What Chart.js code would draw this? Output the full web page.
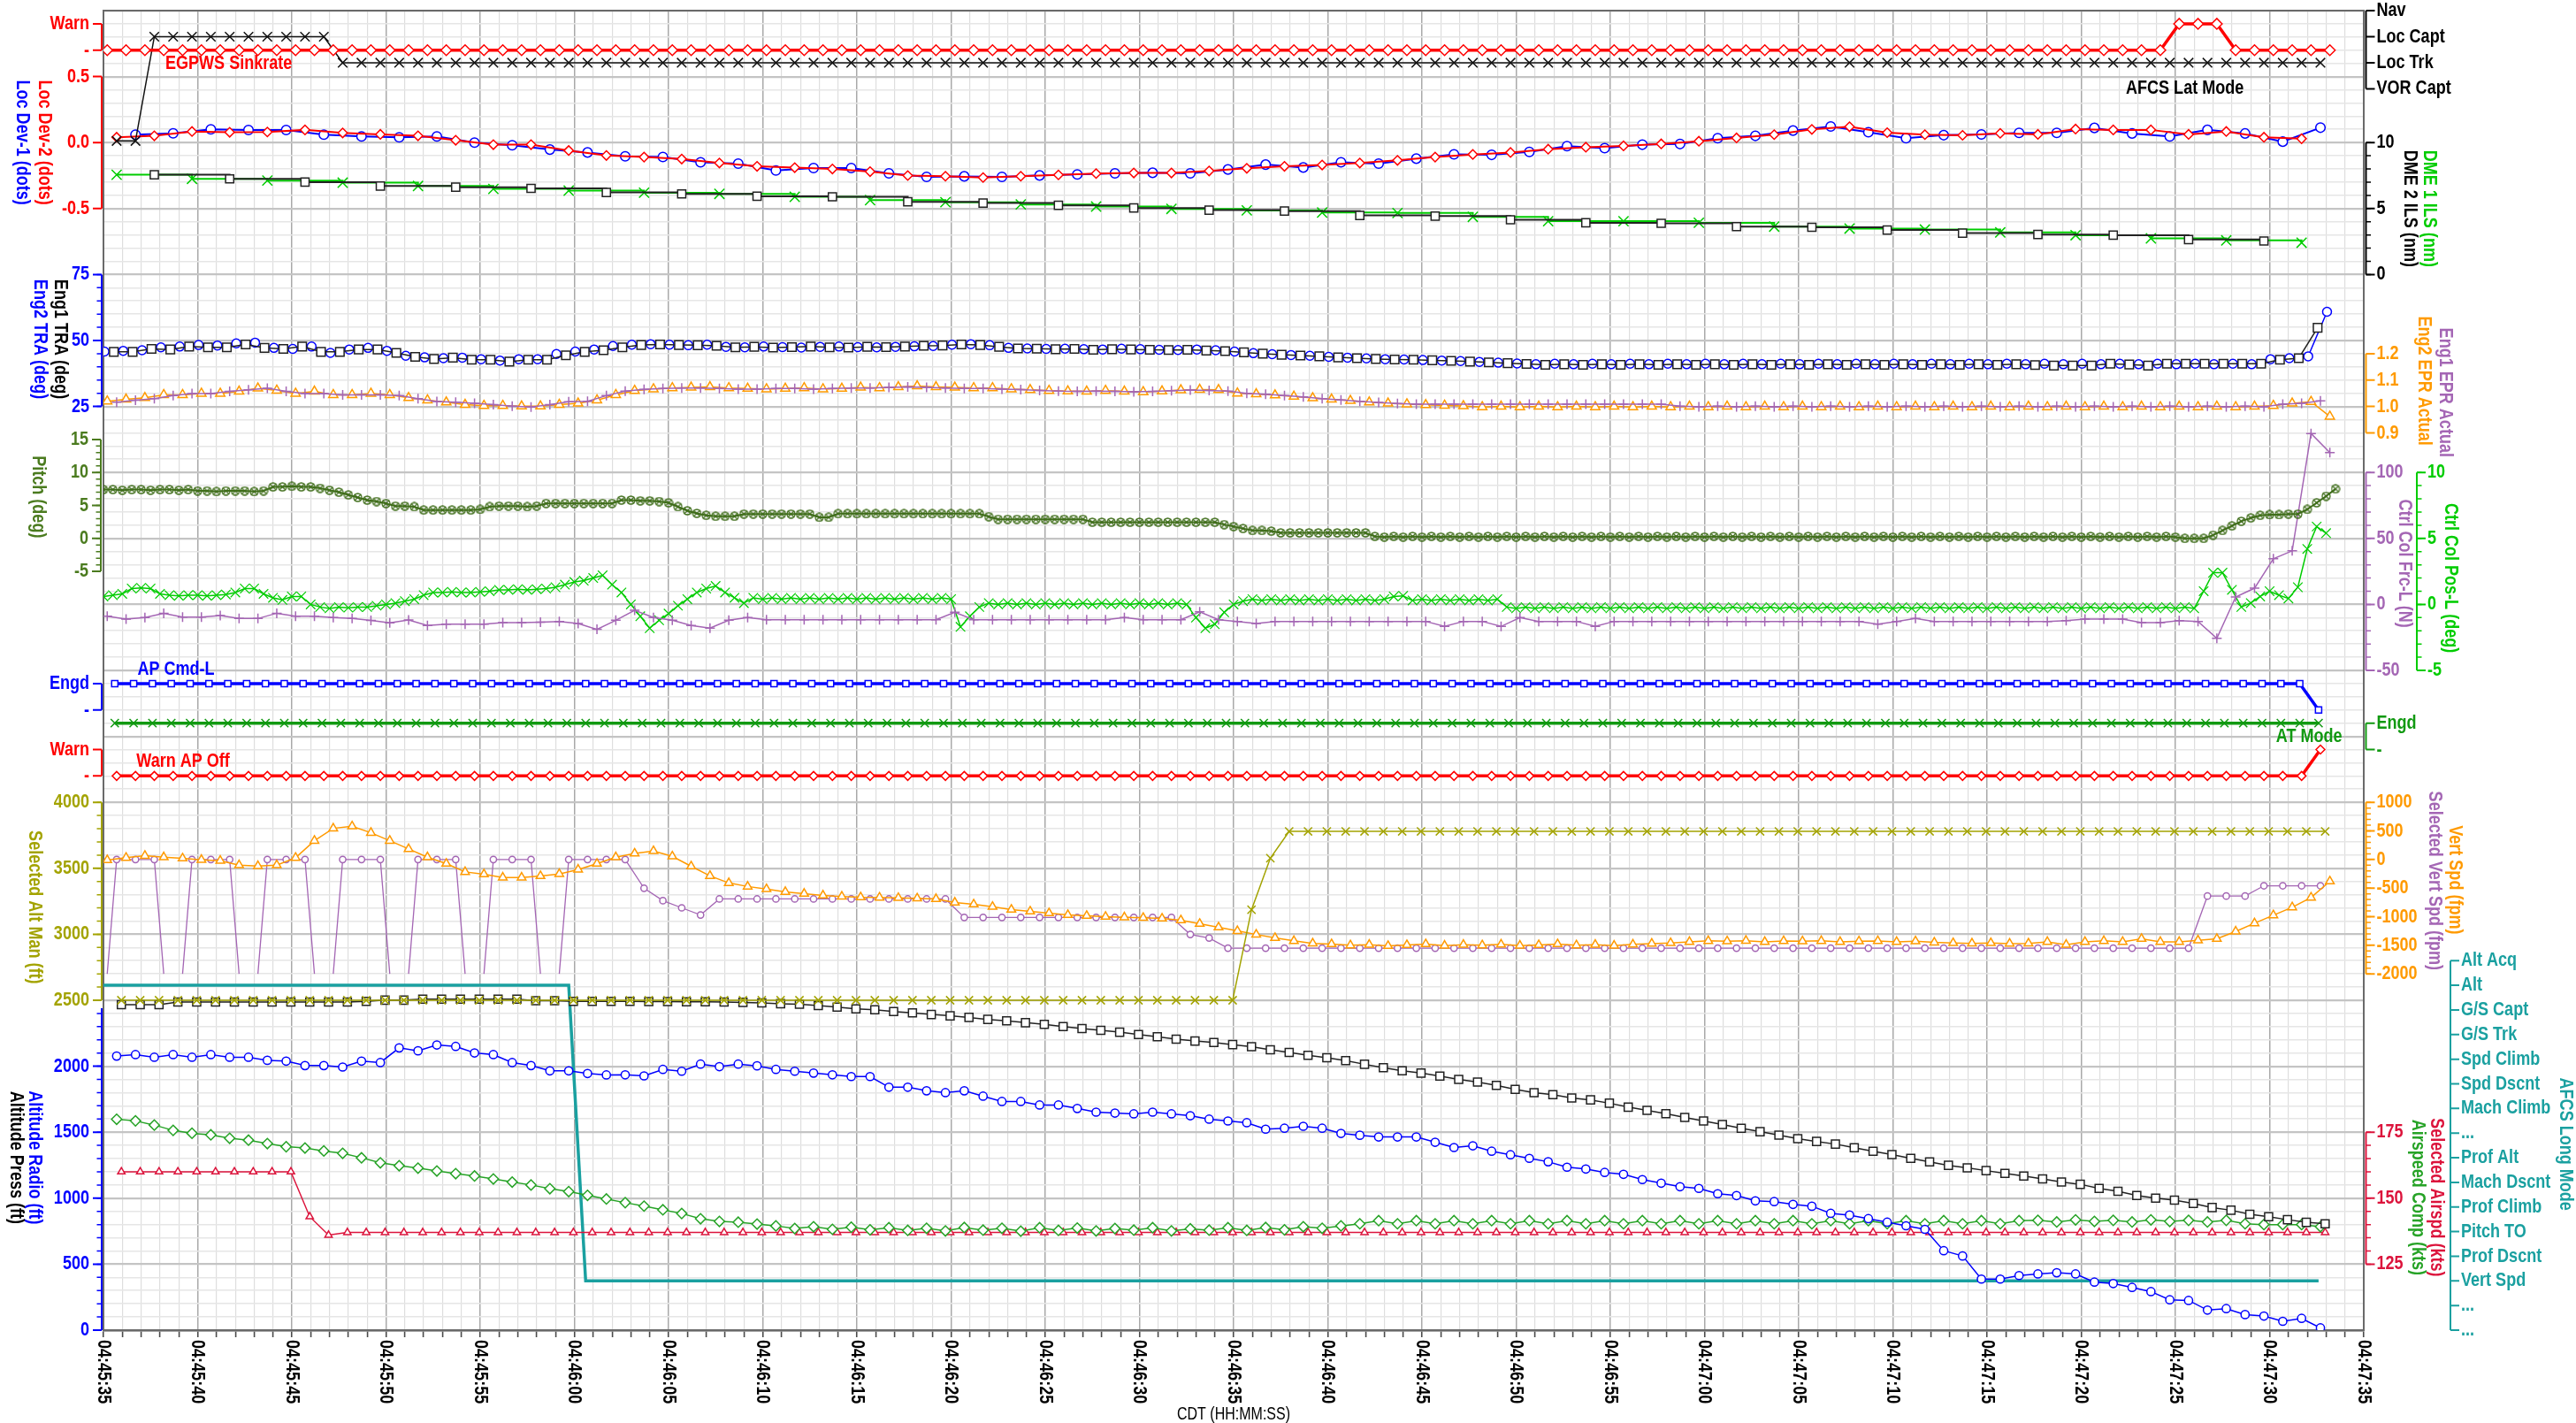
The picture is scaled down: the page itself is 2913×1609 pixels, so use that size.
<!DOCTYPE html>
<html>
<head>
<meta charset="utf-8">
<title>Flight data – final approach</title>
<script src="https://cdn.jsdelivr.net/npm/chart.js@4.4.1/dist/chart.umd.min.js"></script>
<style>
  html, body { margin: 0; padding: 0; background: #ffffff; }
  #wrap { width: 2913px; height: 1609px; position: relative; }
  canvas { display: block; }
</style>
</head>
<body>
<div id="wrap"><canvas id="fdr" width="2913" height="1609"></canvas></div>
<script>
// ---------------------------------------------------------------------------
// Time axis: seconds after 04:45:35 CDT
// ---------------------------------------------------------------------------
const timeLabels = ['04:45:35','04:45:40','04:45:45','04:45:50','04:45:55','04:46:00','04:46:05',
  '04:46:10','04:46:15','04:46:20','04:46:25','04:46:30','04:46:35','04:46:40','04:46:45',
  '04:46:50','04:46:55','04:47:00','04:47:05','04:47:10','04:47:15','04:47:20','04:47:25',
  '04:47:30','04:47:35'];

// Discrete state labels
const warnStates = ['-', 'Warn'];
const engdStates = ['-', 'Engd'];
const latModeLabels = ['VOR Capt', 'Loc Trk', 'Loc Capt', 'Nav'];
const longModeLabels = ['...', '...', 'Vert Spd', 'Prof Dscnt', 'Pitch TO', 'Prof Climb', 'Mach Dscnt',
  'Prof Alt', '...', 'Mach Climb', 'Spd Dscnt', 'Spd Climb', 'G/S Trk', 'G/S Capt', 'Alt', 'Alt Acq'];

// Numeric tick labels
const locDevTicks = [0.5, 0.0, -0.5];
const dmeTicks = [10, 5, 0];
const traTicks = [75, 50, 25];
const eprTicks = [1.2, 1.1, 1.0, 0.9];
const pitchTicks = [15, 10, 5, 0, -5];
const frcTicks = [100, 50, 0, -50];
const posTicks = [10, 5, 0, -5];
const selAltTicks = [4000, 3500, 3000, 2500];
const vsTicks = [1000, 500, 0, -500, -1000, -1500, -2000];
const altTicks = [2000, 1500, 1000, 500, 0];
const iasTicks = [175, 150, 125];
const latModeTicks = [3, 2, 1, 0];
const longModeTicks = [15, 14, 13, 12, 11, 10, 9, 8, 7, 6, 5, 4, 3, 2, 1, 0];

// ---------------------------------------------------------------------------
// Recorded parameters (regular samples: first sample time, interval in s)
// ---------------------------------------------------------------------------
// EGPWS Sinkrate (0 = '-', 1 = Warn), from 0.2 s every 1 s
const egpwsSinkrate = [
  0,0,0,0,0,0,0,0,0,0, 0,0,0,0,0,0,0,0,0,0, 0,0,0,0,0,0,0,0,0,0,
  0,0,0,0,0,0,0,0,0,0, 0,0,0,0,0,0,0,0,0,0, 0,0,0,0,0,0,0,0,0,0,
  0,0,0,0,0,0,0,0,0,0, 0,0,0,0,0,0,0,0,0,0, 0,0,0,0,0,0,0,0,0,0,
  0,0,0,0,0,0,0,0,0,0, 0,0,0,0,0,0,0,0,0,0,
  1,1,1,0,0,0,0,0,0];

// AFCS Lat Mode (index into latModeLabels), from 0.7 s every 1 s
const afcsLatMode = [
  -2,-2,2,2,2,2,2,2,2,2, 2,2,1,1,1,1,1,1,1,1,
  1,1,1,1,1,1,1,1,1,1, 1,1,1,1,1,1,1,1,1,1, 1,1,1,1,1,1,1,1,1,1,
  1,1,1,1,1,1,1,1,1,1, 1,1,1,1,1,1,1,1,1,1, 1,1,1,1,1,1,1,1,1,1,
  1,1,1,1,1,1,1,1,1,1, 1,1,1,1,1,1,1,1,1,1, 1,1,1,1,1,1,1,1,1,1,
  1,1,1,1,1,1,1,1];

// Localizer deviation (dots), every 2 s
const locDev1 = [ // from 1.7 s
  0.06, 0.07, 0.10, 0.095, 0.095, 0.06, 0.047, 0.04, 0.047, 0.0,
  -0.02, -0.053, -0.075, -0.104, -0.109, -0.149, -0.16, -0.211, -0.193, -0.193,
  -0.233, -0.26, -0.256, -0.26, -0.249, -0.242, -0.233, -0.229, -0.233, -0.204,
  -0.167, -0.189, -0.149, -0.16, -0.122, -0.089, -0.093, -0.071, -0.027, -0.042,
  -0.016, -0.011, 0.033, 0.051, 0.091, 0.122, 0.078, 0.033, 0.056, 0.062,
  0.073, 0.073, 0.111, 0.069, 0.047, 0.096, 0.069, 0.007, 0.113];
const locDev2 = [ // from 0.7 s
  0.04, 0.051, 0.084, 0.078, 0.08, 0.096, 0.073, 0.062, 0.051, 0.018,
  -0.016, -0.016, -0.06, -0.098, -0.11, -0.125, -0.155, -0.18, -0.19, -0.2,
  -0.22, -0.25, -0.255, -0.265, -0.255, -0.245, -0.235, -0.23, -0.23, -0.215,
  -0.195, -0.18, -0.17, -0.155, -0.135, -0.11, -0.09, -0.075, -0.05, -0.035,
  -0.025, -0.01, 0.01, 0.035, 0.06, 0.1, 0.12, 0.075, 0.06, 0.055,
  0.07, 0.062, 0.102, 0.096, 0.096, 0.062, 0.084, 0.04, 0.029];

// DME distance (nm), every 4 s
const dme1Ils = [ // from 0.7 s
  7.56, 7.25, 7.12, 6.96, 6.71, 6.49, 6.36, 6.2, 6.11, 5.89,
  5.64, 5.48, 5.31, 5.15, 4.97, 4.86, 4.7, 4.66, 4.37, 4.04,
  4.04, 3.92, 3.63, 3.48, 3.41, 3.19, 2.98, 2.74, 2.59, 2.41];
const dme2Ils = [ // from 2.7 s
  7.56, 7.25, 7.0, 6.71, 6.62, 6.53, 6.22, 6.11, 5.93, 5.89,
  5.51, 5.42, 5.24, 5.04, 4.88, 4.81, 4.48, 4.43, 4.15, 3.92,
  3.88, 3.63, 3.58, 3.37, 3.14, 3.03, 2.98, 2.65, 2.54];

// Thrust resolver angle (deg), every 1 s
const eng1Tra = [ // from 0.55 s
  45.7, 45.7, 46.8, 46.6, 47.7, 47.4, 47.4, 48.5, 47.2, 46.8,
  47.7, 45.7, 45.7, 46.6, 46.6, 45.3, 43.8, 43.0, 43.5, 42.7,
  42.7, 42.0, 42.7, 42.7, 44.4, 45.7, 46.3,
  47.4, 48.3, 48.5, 48.3, 48.2, 48.0,
  47.4, 47.6, 47.3, 47.5, 47.7, 47.4, 47.3, 47.6, 47.5, 47.7, 48.0, 48.1,
  48.5, 48.3, 47.6,
  47.0, 46.9, 46.7, 46.8, 46.5, 46.7, 46.6, 46.5, 46.4, 46.5, 46.2, 46.0,
  45.5, 45.0, 44.6, 44.3, 44.0, 43.6,
  43.3, 43.0, 42.8, 42.7, 42.5, 42.3, 42.0, 41.7, 41.4, 41.1,
  40.8, 41.0, 40.8, 41.0, 40.8, 41.0, 40.8, 41.0, 40.8, 41.0, 40.8, 41.0, 40.8,
  41.0, 40.8, 41.0, 40.8, 41.0, 40.8, 41.0, 40.8, 41.0, 40.8, 41.0, 40.8, 41.0,
  40.7, 40.5, 40.5, 40.5, 41.2, 40.9, 40.5, 41.2, 41.2, 41.2, 41.2, 41.2, 41.2,
  42.7, 43.3, 54.8];
const eng2Tra = [ // from 0.05 s
  45.8, 46.1, 46.3, 47.4, 47.7, 48.3, 48.1, 48.9, 49.2, 47.2,
  46.8, 47.7, 45.3, 46.6, 47.2, 46.1, 44.2, 43.6, 43.3, 43.5,
  42.9, 42.4, 42.9, 42.9, 44.9, 45.8, 46.6, 47.9,
  48.4, 48.6, 48.4, 48.2, 48.4,
  47.6, 47.4, 47.7, 47.5, 47.3, 47.6, 47.7, 47.5, 47.4, 47.6, 47.8, 47.9,
  48.4, 48.6, 48.2,
  47.2, 47.0, 46.8, 46.9, 46.7, 46.6, 46.9, 46.7, 46.5, 46.4, 46.6, 46.3,
  45.8, 45.2, 44.8, 44.5, 44.2, 43.8,
  43.5, 43.2, 42.9, 42.8, 42.6, 42.4, 42.2, 41.9, 41.6, 41.3,
  41.0, 41.2, 41.0, 41.2, 41.0, 41.2, 41.0, 41.2, 41.0, 41.2,
  41.0, 41.2, 41.0, 41.2, 41.0, 41.2, 41.0, 41.2, 41.0, 41.2,
  41.0, 41.2, 41.0, 41.2, 41.0, 41.2, 41.0, 41.2, 41.0, 41.2,
  41.0, 41.2, 41.0, 41.2, 41.0, 41.2, 41.0, 41.2, 41.0,
  42.9, 43.3, 44.0, 60.9];

// Engine pressure ratio, every 1 s
const eng1Epr = [ // from 0.7 s
  1.016, 1.024, 1.030, 1.041, 1.049, 1.049, 1.057, 1.063, 1.069, 1.057,
  1.049, 1.049, 1.044, 1.044, 1.044, 1.041, 1.030, 1.019, 1.016, 1.012,
  1.007, 1.001, 0.998, 1.007, 1.018, 1.020, 1.041,
  1.058, 1.065, 1.068, 1.070, 1.070, 1.068, 1.066, 1.066, 1.068, 1.068,
  1.066, 1.068, 1.070, 1.070, 1.072, 1.074, 1.072, 1.070, 1.068, 1.068, 1.066,
  1.064, 1.061, 1.058, 1.057, 1.058, 1.057, 1.056, 1.057, 1.060, 1.062, 1.061, 1.058,
  1.050, 1.046, 1.041, 1.036, 1.030, 1.025, 1.020, 1.015, 1.011, 1.009, 1.009, 1.009, 1.009,
  1.009, 1.009, 1.009, 1.009, 1.009, 1.009, 1.009, 1.009, 1.009, 1.009,
  1.001, 0.999, 1.001, 0.999, 1.001, 0.999, 1.001, 0.999, 1.001, 0.999,
  1.001, 0.999, 1.001, 0.999, 1.001, 0.999, 1.001, 0.999, 1.001, 0.999,
  1.001, 0.999, 1.001, 0.999, 1.001, 0.999, 1.001, 0.999, 1.001, 0.999,
  1.001, 0.999,
  1.009, 1.012, 1.021];
const eng2Epr = [ // from 0.2 s
  1.020, 1.027, 1.033, 1.044, 1.044, 1.049, 1.049, 1.057, 1.069, 1.061,
  1.049, 1.057, 1.044, 1.044, 1.049, 1.044, 1.033, 1.024, 1.016, 1.007,
  1.003, 1.003, 1.001, 1.001, 1.007, 1.012, 1.024, 1.044,
  1.060, 1.066, 1.070, 1.072, 1.074,
  1.070, 1.068, 1.066, 1.068, 1.070, 1.066, 1.068, 1.072, 1.070, 1.074, 1.077, 1.074, 1.072, 1.070, 1.070,
  1.066, 1.063, 1.060, 1.058, 1.057, 1.060, 1.057, 1.055, 1.058, 1.062, 1.064, 1.063,
  1.050, 1.047, 1.043, 1.038, 1.032, 1.027, 1.022, 1.016, 1.012, 1.009, 1.006, 1.004, 1.002,
  0.998, 1.000, 0.998, 1.000, 0.998, 1.000, 0.998, 1.000, 0.998, 1.000,
  0.998, 1.000, 0.998, 1.000, 0.998, 1.000, 0.998, 1.000, 0.998, 1.000,
  0.998, 1.000, 0.998, 1.000, 0.998, 1.000, 0.998, 1.000, 0.998, 1.000,
  0.998, 1.000, 0.998, 1.000, 0.998, 1.000, 0.998, 1.000, 0.998, 1.000,
  0.998, 1.000,
  1.003, 1.012, 1.018, 0.962];

// Pitch attitude (deg), from 0 s every 0.5 s
const pitch = [
  7.4, 7.4, 7.3, 7.4, 7.4, 7.3, 7.4, 7.4, 7.3, 7.4,
  7.2, 7.2, 7.1, 7.2, 7.2, 7.2, 7.1, 7.2,
  7.8, 7.8, 7.9, 7.8, 7.8,
  7.6, 7.3, 7.0, 6.6, 6.2,
  5.8, 5.6, 5.3,
  4.9, 4.9, 4.8,
  4.3, 4.3, 4.3, 4.3, 4.3, 4.3, 4.4,
  4.8, 4.9, 4.9, 4.9, 4.8, 4.9,
  5.3, 5.3, 5.3, 5.3, 5.3, 5.3, 5.3, 5.3,
  5.8, 5.8, 5.7, 5.7, 5.6,
  5.4, 4.8, 4.2, 3.8, 3.5,
  3.35, 3.35, 3.35,
  3.7, 3.7, 3.7, 3.7, 3.7, 3.7, 3.7, 3.7,
  3.2, 3.2,
  3.75, 3.75, 3.75, 3.75, 3.75, 3.75, 3.75, 3.75, 3.75, 3.75, 3.75, 3.75, 3.75, 3.75, 3.75, 3.75,
  3.3,
  2.9, 2.9, 2.9, 2.9, 2.9, 2.9, 2.9, 2.9, 2.9, 2.9,
  2.45, 2.45, 2.45, 2.45, 2.45, 2.45, 2.45, 2.45, 2.45, 2.45, 2.45, 2.45, 2.45, 2.45,
  2.1, 1.8, 1.5,
  1.2, 1.2, 1.1,
  0.85, 0.85, 0.85, 0.85, 0.85, 0.85, 0.85, 0.85, 0.85, 0.85,
  0.3, 0.2, 0.3, 0.2, 0.3, 0.2, 0.3, 0.2, 0.3, 0.2,
  0.3, 0.2, 0.3, 0.2, 0.3, 0.2, 0.3, 0.2, 0.3, 0.2,
  0.3, 0.2, 0.3, 0.2, 0.3, 0.2, 0.3, 0.2, 0.3, 0.2,
  0.3, 0.2, 0.3, 0.2, 0.3, 0.2, 0.3, 0.2, 0.3, 0.2,
  0.3, 0.2, 0.3, 0.2, 0.3, 0.2, 0.3, 0.2, 0.3, 0.2,
  0.3, 0.2, 0.3, 0.2, 0.3, 0.2, 0.3, 0.2, 0.3, 0.2,
  0.3, 0.2, 0.3, 0.2, 0.3, 0.2, 0.3, 0.2, 0.3, 0.2,
  0.3, 0.2, 0.3, 0.2, 0.3, 0.2, 0.3, 0.2, 0.3, 0.2,
  0.3, 0.2, 0.3, 0.2, 0.3, 0.2,
  0.0, 0.0, 0.0,
  0.5, 1.2, 1.9, 2.6, 3.1,
  3.5, 3.6, 3.6, 3.7, 3.7,
  4.4, 5.4, 6.4, 7.5];

// Control column position (deg), from 0 s every 0.5 s
const ctrlColPos = [
  0.6, 0.7, 0.8,
  1.2, 1.25, 1.2,
  0.8, 0.7, 0.65, 0.7, 0.7, 0.65, 0.7, 0.75, 0.9,
  1.2, 1.2,
  0.8, 0.5, 0.34, 0.6, 0.6,
  0.0, -0.2, -0.3, -0.2, -0.25, -0.2, -0.2, -0.1, 0.0,
  0.1, 0.25, 0.4,
  0.7, 0.9, 0.9, 0.95, 0.9, 0.9, 0.95, 1.0,
  1.1, 1.1, 1.15, 1.1, 1.15, 1.2, 1.3, 1.5,
  1.7, 1.8, 2.0,
  2.2,
  1.5, 0.9, 0.0, -0.9, -1.8, -1.2, -0.7, -0.1, 0.4, 0.9, 1.2, 1.4, 0.9, 0.5, 0.1,
  0.5, 0.4, 0.5, 0.4, 0.5, 0.4, 0.5, 0.4, 0.5, 0.4, 0.5,
  0.4, 0.5, 0.4, 0.5, 0.4, 0.5, 0.4, 0.5, 0.4, 0.5, 0.4,
  -1.7, -0.9, -0.2,
  0.1, 0.0, 0.1, 0.0, 0.1, 0.0, 0.1, 0.0, 0.1, 0.0, 0.1,
  0.0, 0.1, 0.0, 0.1, 0.0, 0.1, 0.0, 0.1, 0.0, 0.1, 0.0,
  -1.0, -1.8, -1.5, -0.6, 0.0, 0.25,
  0.4, 0.3, 0.4, 0.3, 0.4, 0.3, 0.4, 0.3, 0.4, 0.3, 0.4, 0.3, 0.4, 0.3, 0.4,
  0.6, 0.65,
  0.3, 0.4, 0.3, 0.4, 0.3, 0.4, 0.3, 0.4, 0.3, 0.4,
  -0.2, -0.3, -0.2, -0.3, -0.2, -0.3, -0.2, -0.3, -0.2, -0.3,
  -0.2, -0.3, -0.2, -0.3, -0.2, -0.3, -0.2, -0.3, -0.2, -0.3,
  -0.2, -0.3, -0.2, -0.3, -0.2, -0.3, -0.2, -0.3, -0.2, -0.3,
  -0.2, -0.3, -0.2, -0.3, -0.2, -0.3, -0.2, -0.3, -0.2, -0.3,
  -0.2, -0.3, -0.2, -0.3, -0.2, -0.3, -0.2, -0.3, -0.2, -0.3,
  -0.2, -0.3, -0.2, -0.3, -0.2, -0.3, -0.2, -0.3, -0.2, -0.3,
  -0.2, -0.3, -0.2, -0.3, -0.2, -0.3, -0.2, -0.3, -0.2, -0.3,
  -0.2, -0.3, -0.2, -0.3,
  1.0, 2.4, 2.4, 1.1, -0.2, 0.1, 0.6, 1.0, 0.7, 0.45, 1.3, 4.2, 5.9, 5.4];

// Control column force (N), from 0.2 s every 1 s
const ctrlColFrc = [
  -8.9, -11.1, -10, -6.7, -9.6, -9.6, -8.5, -10.7, -10.7, -6.7,
  -8.9, -8.9, -10, -10.7, -12.2, -14, -11.8, -16, -14.9, -14.9,
  -14.9, -13.8, -13.8, -13.5, -12.9,
  -14.5, -18.9, -12, -4.5, -10, -12, -16, -18, -12, -10,
  -11.6, -11.6, -11.6, -11.6, -11.6, -11.6, -11.6, -11.6, -11.6, -11.6,
  -6,
  -11.6, -11.6, -11.6, -11.6, -11.6, -11.6, -11.6, -11.6,
  -10,
  -11.6, -11.6, -11.6,
  -5.6, -11.6, -12.9, -14.5,
  -12.9, -12.9, -12.9, -12.9, -12.9, -12.9, -12.9, -12.9, -12.9,
  -16.7, -12.9, -12.9, -16.7, -10, -12.9, -12.9, -12.9, -16.7,
  -12.9, -12.9, -12.9, -12.9, -12.9, -12.9, -12.9, -12.9, -12.9, -12.9, -12.9, -12.9, -12.9, -12.9,
  -15, -12.9, -10.7,
  -12.9, -12.9, -12.9, -12.9, -12.9, -12.9,
  -12.9, -12.3, -11.2, -11.2, -11.2, -13.8, -13.8, -12.3, -12.9,
  -25.7, 5.6, 12.3, 34.6, 40.6, 129.5, 115];

// AP Cmd-L (1 = Engd), from 0.6 s every 1 s
const apCmdL = [
  1,1,1,1,1,1,1,1,1,1, 1,1,1,1,1,1,1,1,1,1, 1,1,1,1,1,1,1,1,1,1,
  1,1,1,1,1,1,1,1,1,1, 1,1,1,1,1,1,1,1,1,1, 1,1,1,1,1,1,1,1,1,1,
  1,1,1,1,1,1,1,1,1,1, 1,1,1,1,1,1,1,1,1,1, 1,1,1,1,1,1,1,1,1,1,
  1,1,1,1,1,1,1,1,1,1, 1,1,1,1,1,1,1,1,1,1,
  1,1,1,1,1,1,1,0];
// AT Mode (1 = Engd), from 0.6 s every 1 s
const atMode = [
  1,1,1,1,1,1,1,1,1,1, 1,1,1,1,1,1,1,1,1,1, 1,1,1,1,1,1,1,1,1,1,
  1,1,1,1,1,1,1,1,1,1, 1,1,1,1,1,1,1,1,1,1, 1,1,1,1,1,1,1,1,1,1,
  1,1,1,1,1,1,1,1,1,1, 1,1,1,1,1,1,1,1,1,1, 1,1,1,1,1,1,1,1,1,1,
  1,1,1,1,1,1,1,1,1,1, 1,1,1,1,1,1,1,1,1,1,
  1,1,1,1,1,1,1,1];
// Warn AP Off (1 = Warn), from 0.7 s every 1 s
const warnApOff = [
  0,0,0,0,0,0,0,0,0,0, 0,0,0,0,0,0,0,0,0,0, 0,0,0,0,0,0,0,0,0,0,
  0,0,0,0,0,0,0,0,0,0, 0,0,0,0,0,0,0,0,0,0, 0,0,0,0,0,0,0,0,0,0,
  0,0,0,0,0,0,0,0,0,0, 0,0,0,0,0,0,0,0,0,0, 0,0,0,0,0,0,0,0,0,0,
  0,0,0,0,0,0,0,0,0,0, 0,0,0,0,0,0,0,0,0,0,
  0,0,0,0,0,0,0,1];

// Selected altitude (ft), from 0.95 s every 1 s
const selectedAltMan = [
  2500,2500,2500,2500,2500,2500,2500,2500,2500,2500, 2500,2500,2500,2500,2500,2500,2500,2500,2500,2500,
  2500,2500,2500,2500,2500,2500,2500,2500,2500,2500, 2500,2500,2500,2500,2500,2500,2500,2500,2500,2500,
  2500,2500,2500,2500,2500,2500,2500,2500,2500,2500, 2500,2500,2500,2500,2500,2500,2500,2500,2500,2500,
  3186, 3577,
  3780,3780,3780,3780,3780,3780,3780,3780,3780,3780, 3780,3780,3780,3780,3780,3780,3780,3780,3780,3780,
  3780,3780,3780,3780,3780,3780,3780,3780,3780,3780, 3780,3780,3780,3780,3780,3780,3780,3780,3780,3780,
  3780,3780,3780,3780,3780,3780,3780,3780,3780,3780, 3780,3780,3780,3780,3780,3780];

// Vertical speed (fpm), from 0.2 s every 1 s
const vertSpd = [
  -11, 31, 66, 41, 20, -5, -20, -98, -113, -98,
  31, 329, 545, 582, 468, 329, 185, 41, -73, -217,
  -258, -314, -314, -289, -252, -175, -73, 41,
  105, 148, 55, -118, -286, -410, -472, -517, -566, -597,
  -628, -647, -660, -665, -672, -680, -690, -752, -783, -826,
  -877, -907, -939, -970, -985, -1000, -1010, -1020, -1031, -1062,
  -1124, -1186, -1249, -1311, -1372, -1423, -1466,
  -1480, -1500, -1490, -1510, -1495, -1480, -1505, -1490, -1500, -1485,
  -1505, -1495, -1480, -1500, -1490, -1505, -1485, -1470, -1460,
  -1440, -1423, -1430, -1420, -1440, -1425, -1430, -1423, -1440, -1430,
  -1425, -1440, -1430, -1450, -1460,
  -1466, -1460, -1470, -1466,
  -1439, -1490, -1439, -1423, -1439, -1387, -1439, -1439, -1413, -1387,
  -1258, -1114, -974, -835, -665, -382];

// Selected vertical speed (fpm): irregular part. Invalid samples are drawn
// down to -2000 and the trace is broken (null) while the value is invalid.
const selVsEarlyTimes = [0.2, 0.7, 1.7, 2.7, 3.2, 3.7, 4.2, 4.7, 5.7, 6.7, 7.2, 7.7, 8.2, 8.7, 9.7, 10.7,
  11.2, 11.7, 12.2, 12.7, 13.7, 14.7, 15.2, 15.7, 16.2, 16.7, 17.7, 18.7, 19.2, 19.7, 20.2,
  20.7, 21.7, 22.7, 23.2, 23.7, 24.2];
const selVsEarly = [-2000, 0, 0, 0, -2000, null, -2000, 0, 0, 0, -2000, null, -2000, 0, 0, 0,
  -2000, null, -2000, 0, 0, 0, -2000, null, -2000, 0, 0, 0, -2000, null, -2000,
  0, 0, 0, -2000, null, -2000];
// then regular from 24.7 s every 1 s
const selVsLate = [
  0, 0, 0, 0, -503, -720, -845, -970,
  -690, -690, -690, -690, -690, -690, -690, -690, -690, -690, -690, -690, -690,
  -1013, -1013, -1013, -1013, -1013, -1013, -1013, -1013, -1013, -1013, -1013, -1013,
  -1310, -1372,
  -1550, -1550, -1550, -1550, -1550, -1550, -1550, -1550, -1550, -1550,
  -1550, -1550, -1550, -1550, -1550, -1550, -1550, -1550, -1550, -1550,
  -1550, -1550, -1550, -1550, -1550, -1550, -1550, -1550, -1550, -1550,
  -1550, -1550, -1550, -1550, -1550, -1550, -1550, -1550, -1550, -1550,
  -1550, -1550, -1550, -1550, -1550, -1550, -1550, -1550, -1550, -1550,
  -1550, -1550,
  -639, -639, -639, -459, -459, -459, -459];

// Pressure altitude (ft), from 0.95 s every 1 s
const altitudePress = [
  2467, 2467, 2467, 2486, 2486, 2486, 2486, 2486, 2486, 2486, 2486, 2486, 2486,
  2492, 2501, 2501, 2508, 2508, 2508, 2508, 2508, 2508, 2497, 2497, 2492, 2492, 2492,
  2492, 2490, 2490, 2488, 2488, 2486, 2484, 2480, 2474,
  2470, 2460, 2448, 2435, 2428, 2415, 2405, 2392, 2382, 2370,
  2355, 2344, 2330, 2317, 2300, 2285, 2272, 2258, 2240, 2223,
  2205, 2191, 2180, 2164, 2148, 2124, 2105, 2083, 2065, 2043,
  2015, 1989, 1965, 1948, 1925, 1900, 1880, 1855, 1825, 1800,
  1785, 1760, 1745, 1720, 1690, 1666, 1640, 1612, 1585, 1558,
  1530, 1504, 1478, 1451, 1430, 1410, 1383, 1356, 1330, 1302,
  1275, 1249, 1230, 1209, 1188, 1168,
  1146, 1123, 1105, 1074, 1052, 1020, 1000, 985, 960, 929, 909, 878, 860, 837, 817, 806];

// Radio altitude (ft), from 0.7 s every 1 s
const altitudeRadio = [
  2077, 2088, 2068, 2088, 2068, 2088, 2068, 2068, 2045, 2039,
  2005, 2005, 1994, 2039, 2028, 2139, 2117, 2161, 2150, 2101,
  2088, 2028, 2005, 1965, 1965, 1945, 1934,
  1935, 1927, 1976, 1962, 2016, 1997, 2016, 2003, 1976, 1962,
  1948, 1935, 1922, 1922, 1841, 1841, 1814, 1800, 1814, 1773,
  1733, 1733, 1706, 1706, 1680, 1652, 1645, 1639, 1652, 1639,
  1625, 1599, 1585, 1572, 1523, 1530, 1545, 1530, 1491, 1477,
  1464, 1464, 1464, 1424, 1384, 1397, 1356, 1329, 1302, 1276,
  1235, 1221, 1195, 1181, 1141, 1114, 1087, 1074, 1034, 1020,
  980, 974, 953, 939, 885, 872, 845, 818, 791, 764,
  602, 562, 387, 387, 414,
  426, 435, 426, 364, 353, 324, 292, 230, 225, 152, 163, 118, 107, 67, 89, 17];

// Computed airspeed (kts), from 0.7 s every 1 s
const airspeedComp = [
  179.9, 179.3, 177.7, 175.7, 174.6, 174.0, 172.7, 172.0, 170.7, 169.5,
  169.0, 167.9, 167.0, 165.3, 163.4, 162.3, 161.4, 160.3, 159.3, 158.4,
  157.3, 156.1, 155.0, 153.6, 152.5, 151.1, 149.7,
  148.3, 147.0, 145.6, 144.2, 142.2, 141.2, 140.9,
  140.2, 139.5, 138.5, 139.2, 138.2, 139.0, 138.0, 138.8, 137.8, 138.6,
  137.6, 138.9, 137.9, 138.6, 137.5, 138.8, 137.8, 138.7, 137.6, 138.5,
  137.9, 138.8, 137.6, 138.4, 137.9, 138.8, 137.8, 138.9, 138.0, 139.2,
  138.6, 139.5,
  140.3, 141.5, 140.3, 141.5, 140.3, 141.5, 140.3, 141.5, 140.3, 141.5,
  140.3, 141.5, 140.3, 141.5, 140.3, 141.5, 140.3, 141.5, 140.3, 141.5,
  140.3, 141.5, 140.3, 141.5, 140.3, 141.5, 140.3, 141.5, 140.3, 141.5,
  140.3, 141.5, 140.3, 141.5, 140.3, 141.5,
  141.6, 141.0, 141.8, 141.2, 141.6, 141.0, 141.8, 141.2, 141.6, 141.0, 141.6,
  140.3, 140.0, 140.0, 140.0, 139.2];

// Selected airspeed (kts), from 0.95 s every 1 s
const selectedAirspd = [
  160, 160, 160, 160, 160, 160, 160, 160, 160, 160, 143, 136,
  137,137,137,137,137,137,137,137,137,137, 137,137,137,137,137,137,137,137,137,137,
  137,137,137,137,137,137,137,137,137,137, 137,137,137,137,137,137,137,137,137,137,
  137,137,137,137,137,137,137,137,137,137, 137,137,137,137,137,137,137,137,137,137,
  137,137,137,137,137,137,137,137,137,137, 137,137,137,137,137,137,137,137,137,137,
  137,137,137,137,137,137,137,137,137,137, 137,137,137,137,137,137,137,137,137,137,
  137,137,137,137,137,137];

// AFCS Long Mode (index into longModeLabels) at mode changes
const longModeTimes = [0, 24.7, 25.6, 117.6];
const longMode = [14, 14, 2, 2];

// ---------------------------------------------------------------------------
// Helpers
// ---------------------------------------------------------------------------
const sampled = (t0, dt, values) => values.map((v, i) => ({ x: +(t0 + i * dt).toFixed(2), y: v }));
const paired = (times, values) => values.map((v, i) => ({ x: times[i], y: v }));

// The plot is divided into 20 equal rows (major horizontal grid lines).
// Each panel's scale is anchored to two row positions; the scale range is
// extended so that it spans the full plot height.
const ROWS = 20;
function rowScale(vTop, rTop, vBot, rBot) {
  const per = (vTop - vBot) / (rBot - rTop);
  return { min: vBot - (ROWS - rBot) * per, max: vTop + rTop * per };
}

const RED = '#ff0000', BLUE = '#0000ff', BLACK = '#000000', GREEN = '#00cc00',
  ORANGE = '#ff9a00', PURPLE = '#a466b4', PITCH = '#4b7b1f', OLIVE = '#a3a300',
  ATGREEN = '#119911', ASGREEN = '#27a327', CRIMSON = '#dc143c', TEAL = '#1aa0a0';

const FONT = '"Liberation Sans", Arial, sans-serif';

// ---------------------------------------------------------------------------
// Axis definitions (drawn as bracket axes beside the plot)
// ---------------------------------------------------------------------------
const AXES = [
  { id: 'egpws', side: 'left', rows: [1, 0.2, 0, 0.6], color: RED, span: [1, 0], ticks: [1, 0], lab: v => warnStates[v] },
  { id: 'latMode', side: 'right', rows: [3, 0, 0, 1.185], color: BLACK, span: [3, 0], ticks: latModeTicks, lab: v => latModeLabels[v] },
  { id: 'locDev', side: 'left', rows: [0.5, 1, -0.5, 3], color: RED, span: [0.5, -0.5], ticks: locDevTicks, lab: v => v.toFixed(1),
    titles: [{ text: 'Loc Dev-2 (dots)', color: RED, dx: -67, at: 0 }, { text: 'Loc Dev-1 (dots)', color: BLUE, dx: -92, at: 0 }] },
  { id: 'dme', side: 'right', rows: [10, 2, 0, 4], color: BLACK, span: [10, 0], ticks: dmeTicks, minor: 1, lab: String,
    titles: [{ text: 'DME 1 ILS (nm)', color: GREEN, dx: 74, at: 5 }, { text: 'DME 2 ILS (nm)', color: BLACK, dx: 52, at: 5 }] },
  { id: 'tra', side: 'left', rows: [75, 4, 25, 6], color: BLUE, span: [75, 25], ticks: traTicks, minor: 5, lab: String,
    titles: [{ text: 'Eng1 TRA (deg)', color: BLACK, dx: -49, at: 50.5 }, { text: 'Eng2 TRA (deg)', color: BLUE, dx: -72, at: 50.5 }] },
  { id: 'epr', side: 'right', rows: [1.2, 5.2, 0.9, 6.4], color: ORANGE, span: [1.2, 0.9], ticks: eprTicks, lab: v => v.toFixed(1),
    titles: [{ text: 'Eng2 EPR Actual', color: ORANGE, dx: 68, at: 1.097 }, { text: 'Eng1 EPR Actual', color: PURPLE, dx: 92, at: 1.053 }] },
  { id: 'pitch', side: 'left', off: 1, rows: [10, 7, 0, 8], color: PITCH, span: [15, -5], ticks: pitchTicks, minor: 1, lab: String,
    titles: [{ text: 'Pitch (deg)', color: PITCH, dx: -74, at: 6.3 }] },
  { id: 'frc', side: 'right', rows: [100, 7, -50, 10], color: PURPLE, span: [100, -50], ticks: frcTicks, minor: 10, lab: String,
    titles: [{ text: 'Ctrl Col Frc-L (N)', color: PURPLE, dx: 46.5, at: 31 }] },
  { id: 'pos', side: 'right', off: 57.5, rows: [10, 7, -5, 10], color: GREEN, span: [10, -5], ticks: posTicks, minor: 1, lab: String,
    titles: [{ text: 'Ctrl Col Pos-L (deg)', color: GREEN, dx: 98, at: 2 }] },
  { id: 'apCmd', side: 'left', rows: [1, 10.2, 0, 10.6], color: BLUE, span: [1, 0], ticks: [1, 0], lab: v => engdStates[v] },
  { id: 'atMode', side: 'right', rows: [1, 10.8, 0, 11.2], color: ATGREEN, span: [1, 0], ticks: [1, 0], lab: v => engdStates[v] },
  { id: 'warnAp', side: 'left', rows: [1, 11.2, 0, 11.6], color: RED, span: [1, 0], ticks: [1, 0], lab: v => warnStates[v] },
  { id: 'selAlt', side: 'left', rows: [4000, 12, 2500, 15], color: OLIVE, span: [4000, 2500], ticks: selAltTicks, minor: 100, lab: String,
    titles: [{ text: 'Selected Alt Man (ft)', color: OLIVE, dx: -78, at: 3205 }] },
  { id: 'vs', side: 'right', rows: [1000, 12, -2000, 14.6], color: ORANGE, span: [1000, -2000], ticks: vsTicks, minor: 100, lab: String,
    titles: [{ text: 'Vert Spd (fpm)', color: ORANGE, dx: 103, at: -356 }, { text: 'Selected Vert Spd (fpm)', color: PURPLE, dx: 80.5, at: -371 }] },
  { id: 'alt', side: 'left', rows: [2000, 16, 0, 20], color: BLUE, span: [2440, 0], ticks: altTicks, minor: 100, lab: String,
    titles: [{ text: 'Altitude Radio (ft)', color: BLUE, dx: -78, at: 1308 }, { text: 'Altitude Press (ft)', color: BLACK, dx: -99, at: 1308 }] },
  { id: 'ias', side: 'right', rows: [175, 17, 125, 19], color: CRIMSON, span: [175, 125], ticks: iasTicks, minor: 5, lab: String,
    titles: [{ text: 'Selected Airspd (kts)', color: CRIMSON, dx: 82, at: 150.3 }, { text: 'Airspeed Comp (kts)', color: ASGREEN, dx: 61, at: 150.3 }] },
  { id: 'longMode', side: 'right', off: 95.5, rows: [15, 14.4, 0, 20], color: TEAL, span: [15, 0], ticks: longModeTicks, lab: v => longModeLabels[v],
    titles: [{ text: 'AFCS Long Mode', color: TEAL, dx: 228, at: 7.55 }] }
];

// In-plot parameter captions: x in seconds, y in grid units (0 bottom .. 100 top)
const notes = [
  { text: 'EGPWS Sinkrate', color: RED, t: 6.65, g: 96.0 },
  { text: 'AFCS Lat Mode', color: BLACK, t: 110.5, g: 94.1 },
  { text: 'AP Cmd-L', color: BLUE, t: 3.85, g: 50.05 },
  { text: 'AT Mode', color: ATGREEN, t: 117.1, g: 45.0 },
  { text: 'Warn AP Off', color: RED, t: 4.23, g: 43.1 }
];

// ---------------------------------------------------------------------------
// Marker image for pitch (circle with cross)
// ---------------------------------------------------------------------------
function ringCross(color, size) {
  const c = document.createElement('canvas');
  c.width = size; c.height = size;
  const g = c.getContext('2d');
  const m = size / 2, r = size / 2 - 1;
  g.strokeStyle = color; g.lineWidth = 1.3;
  g.beginPath(); g.arc(m, m, r, 0, Math.PI * 2); g.stroke();
  const d = r * 0.85;
  g.beginPath();
  g.moveTo(m - d, m - d); g.lineTo(m + d, m + d);
  g.moveTo(m + d, m - d); g.lineTo(m - d, m + d);
  g.stroke();
  return c;
}
const pitchMarker = ringCross('#3f6d1a', 11);

// ---------------------------------------------------------------------------
// Datasets
// ---------------------------------------------------------------------------
function line(label, yAxisID, data, color, extra) {
  return Object.assign({
    label, yAxisID, xAxisID: 'x', data,
    borderColor: color, pointBorderColor: color, pointBackgroundColor: '#ffffff',
    borderWidth: 1.5, pointBorderWidth: 1.5, pointRadius: 5, pointHoverRadius: 0,
    fill: false, tension: 0, spanGaps: false
  }, extra || {});
}

const datasets = [
  line('EGPWS Sinkrate', 'egpws', sampled(0.2, 1, egpwsSinkrate), RED, { borderWidth: 3.5, pointStyle: 'rectRot', pointRadius: 6 }),
  line('AFCS Lat Mode', 'latMode', sampled(0.7, 1, afcsLatMode), '#111111', { pointStyle: 'crossRot', pointRadius: 7.5 }),
  line('Loc Dev-2', 'locDev', sampled(0.7, 2, locDev2), RED, { borderWidth: 2, pointStyle: 'rectRot', pointRadius: 5.3 }),
  line('Loc Dev-1', 'locDev', sampled(1.7, 2, locDev1), BLUE, { borderWidth: 2, pointStyle: 'circle', pointRadius: 5.3 }),
  line('DME 2 ILS', 'dme', sampled(2.7, 4, dme2Ils), '#222222', { borderWidth: 2, stepped: true, pointStyle: 'rect', pointRadius: 6.5 }),
  line('DME 1 ILS', 'dme', sampled(0.7, 4, dme1Ils), GREEN, { borderWidth: 2, stepped: true, pointStyle: 'crossRot', pointRadius: 8 }),
  line('Eng1 TRA', 'tra', sampled(0.55, 1, eng1Tra), '#222222', { pointStyle: 'rect', pointRadius: 6.8 }),
  line('Eng2 TRA', 'tra', sampled(0.05, 1, eng2Tra), BLUE, { pointStyle: 'circle', pointRadius: 5 }),
  line('Eng1 EPR Actual', 'epr', sampled(0.7, 1, eng1Epr), PURPLE, { pointStyle: 'cross', pointRadius: 5.5 }),
  line('Eng2 EPR Actual', 'epr', sampled(0.2, 1, eng2Epr), ORANGE, { pointStyle: 'triangle', pointRadius: 6 }),
  line('Pitch', 'pitch', sampled(0, 0.5, pitch), '#3f6d1a', { borderWidth: 2, pointStyle: pitchMarker, pointRadius: 5.5 }),
  line('Ctrl Col Frc-L', 'frc', sampled(0.2, 1, ctrlColFrc), PURPLE, { pointStyle: 'cross', pointRadius: 5.5 }),
  line('Ctrl Col Pos-L', 'pos', sampled(0, 0.5, ctrlColPos), GREEN, { pointStyle: 'crossRot', pointRadius: 7.5, pointBorderWidth: 1.2 }),
  line('AP Cmd-L', 'apCmd', sampled(0.6, 1, apCmdL), BLUE, { borderWidth: 3.5, pointStyle: 'rect', pointRadius: 5 }),
  line('AT Mode', 'atMode', sampled(0.6, 1, atMode), ATGREEN, { borderWidth: 3.5, pointStyle: 'crossRot', pointRadius: 6.5 }),
  line('Warn AP Off', 'warnAp', sampled(0.7, 1, warnApOff), RED, { borderWidth: 3.5, pointStyle: 'rectRot', pointRadius: 5 }),
  line('Selected Alt Man', 'selAlt', sampled(0.95, 1, selectedAltMan), OLIVE, { pointStyle: 'crossRot', pointRadius: 6.5 }),
  line('Vert Spd', 'vs', sampled(0.2, 1, vertSpd), ORANGE, { pointStyle: 'triangle', pointRadius: 5.6 }),
  line('Selected Vert Spd', 'vs', paired(selVsEarlyTimes, selVsEarly).concat(sampled(24.7, 1, selVsLate)), PURPLE,
    { borderWidth: 1.3, pointStyle: 'circle', pointRadius: c => (c.raw && c.raw.y !== null && c.raw.y > -2000 ? 3.6 : 0) }),
  line('Altitude Press', 'alt', sampled(0.95, 1, altitudePress), '#222222', { pointStyle: 'rect', pointRadius: 6.4 }),
  line('Altitude Radio', 'alt', sampled(0.7, 1, altitudeRadio), BLUE, { pointStyle: 'circle', pointRadius: 4.6 }),
  line('Airspeed Comp', 'ias', sampled(0.7, 1, airspeedComp), ASGREEN, { pointStyle: 'rectRot', pointRadius: 5.8 }),
  line('Selected Airspd', 'ias', sampled(0.95, 1, selectedAirspd), CRIMSON, { pointStyle: 'triangle', pointRadius: 4.8 }),
  line('AFCS Long Mode', 'longMode', paired(longModeTimes, longMode), TEAL, { borderWidth: 3.5, pointRadius: 0 })
];

// ---------------------------------------------------------------------------
// Scales
// ---------------------------------------------------------------------------
const secondTicks = [];
for (let s = 0; s <= 120; s++) secondTicks.push(s);
const gridRows = [];
for (let g = 0; g <= 100; g++) gridRows.push(g);

const scales = {
  x: {
    type: 'linear', position: 'bottom', min: 0, max: 120,
    afterBuildTicks: s => { s.ticks = secondTicks.map(v => ({ value: v })); },
    afterFit: s => { s.height = 0; s.paddingLeft = 0; s.paddingRight = 0; },
    ticks: { display: false, autoSkip: false },
    grid: {
      color: c => (c.tick && c.tick.value % 5 === 0 ? '#a9a9a9' : '#dedede'),
      lineWidth: c => (c.tick && c.tick.value % 5 === 0 ? 1.5 : 1.2),
      drawTicks: true, tickLength: 8, tickColor: '#4a4a4a', tickWidth: 1.6
    },
    border: { display: true, color: '#5e5e5e', width: 2.5 }
  },
  yg: {
    type: 'linear', position: 'left', min: 0, max: 100,
    afterBuildTicks: s => { s.ticks = gridRows.map(v => ({ value: v })); },
    afterFit: s => { s.width = 0; s.paddingTop = 0; s.paddingBottom = 0; },
    ticks: { display: false, autoSkip: false },
    grid: {
      color: c => (c.tick && c.tick.value % 5 === 0 ? '#c4c4c4' : '#e6e6e6'),
      lineWidth: c => (c.tick && c.tick.value % 5 === 0 ? 2.2 : 1.6),
      drawTicks: false
    },
    border: { display: false }
  }
};
AXES.forEach(a => {
  const r = rowScale(a.rows[0], a.rows[1], a.rows[2], a.rows[3]);
  scales[a.id] = { type: 'linear', display: false, min: r.min, max: r.max };
});

// ---------------------------------------------------------------------------
// Painter for plot frame, bracket axes, time labels and captions
// ---------------------------------------------------------------------------
function drawText(ctx, text, x, y, o) {
  ctx.save();
  ctx.translate(x, y);
  if (o.rotate) ctx.rotate(o.rotate);
  ctx.scale(o.sx || 0.82, 1);
  ctx.font = o.font || ('bold 22px ' + FONT);
  ctx.fillStyle = o.color || '#000';
  ctx.textAlign = o.align || 'left';
  ctx.textBaseline = o.baseline || 'middle';
  ctx.fillText(text, 0, 0);
  ctx.restore();
}

const axisPainter = {
  id: 'axisPainter',
  beforeDatasetsDraw(chart) {
    const { ctx, chartArea: a } = chart;
    ctx.save();
    ctx.strokeStyle = '#6a6a6a';
    ctx.lineWidth = 2;
    ctx.strokeRect(a.left, a.top, a.right - a.left, a.bottom - a.top);
    ctx.restore();
  },
  afterDraw(chart) {
    const { ctx, chartArea: a, scales: sc } = chart;
    ctx.save();
    AXES.forEach(ax => {
      const s = sc[ax.id];
      const left = ax.side === 'left';
      const dir = left ? -1 : 1;
      const bx = left ? a.left - 2 - (ax.off || 0) : a.right + 2.5 + (ax.off || 0);
      const y1 = s.getPixelForValue(ax.span[0]);
      const y2 = s.getPixelForValue(ax.span[1]);
      ctx.strokeStyle = ax.color;
      ctx.lineWidth = 2;
      ctx.beginPath(); ctx.moveTo(bx, y1); ctx.lineTo(bx, y2); ctx.stroke();
      if (ax.minor) {
        const lo = Math.min(ax.span[0], ax.span[1]);
        const hi = Math.max(ax.span[0], ax.span[1]);
        const n = Math.floor((hi - lo) / ax.minor + 1e-6);
        ctx.lineWidth = 1.5;
        ctx.beginPath();
        for (let i = 0; i <= n; i++) {
          const y = s.getPixelForValue(lo + i * ax.minor);
          ctx.moveTo(bx, y); ctx.lineTo(bx + dir * 5.5, y);
        }
        ctx.stroke();
      }
      ctx.lineWidth = 2;
      ctx.beginPath();
      ax.ticks.forEach(v => {
        const y = s.getPixelForValue(v);
        ctx.moveTo(bx, y); ctx.lineTo(bx + dir * 10, y);
      });
      ctx.stroke();
      ax.ticks.forEach(v => {
        const y = s.getPixelForValue(v);
        drawText(ctx, ax.lab(v), bx + dir * (left ? 14 : 12), y,
          { color: ax.color, align: left ? 'right' : 'left' });
      });
      (ax.titles || []).forEach(t => {
        const x = left ? a.left + t.dx : a.right + t.dx;
        drawText(ctx, t.text, x, s.getPixelForValue(t.at),
          { color: t.color, align: 'center', rotate: Math.PI / 2 });
      });
    });

    // Time labels along the bottom
    timeLabels.forEach((txt, i) => {
      const x = sc.x.getPixelForValue(i * 5);
      drawText(ctx, txt, x, a.bottom + 11, { color: '#000', rotate: Math.PI / 2, align: 'left' });
    });
    drawText(ctx, 'CDT (HH:MM:SS)', (a.left + a.right) / 2, 1599,
      { color: '#000', align: 'center', font: '20px ' + FONT, sx: 0.8 });

    // Parameter captions inside the plot
    notes.forEach(n => {
      drawText(ctx, n.text, sc.x.getPixelForValue(n.t), sc.yg.getPixelForValue(n.g),
        { color: n.color, align: 'center' });
    });
    ctx.restore();
  }
};

// ---------------------------------------------------------------------------
// Chart
// ---------------------------------------------------------------------------
new Chart(document.getElementById('fdr'), {
  type: 'line',
  data: { datasets },
  options: {
    responsive: false,
    animation: false,
    devicePixelRatio: 1,
    events: [],
    layout: { padding: { left: 117, right: 240, top: 12, bottom: 105 } },
    plugins: { legend: { display: false }, tooltip: { enabled: false }, title: { display: false } },
    elements: { line: { tension: 0 } },
    scales
  },
  plugins: [axisPainter]
});
</script>
</body>
</html>
